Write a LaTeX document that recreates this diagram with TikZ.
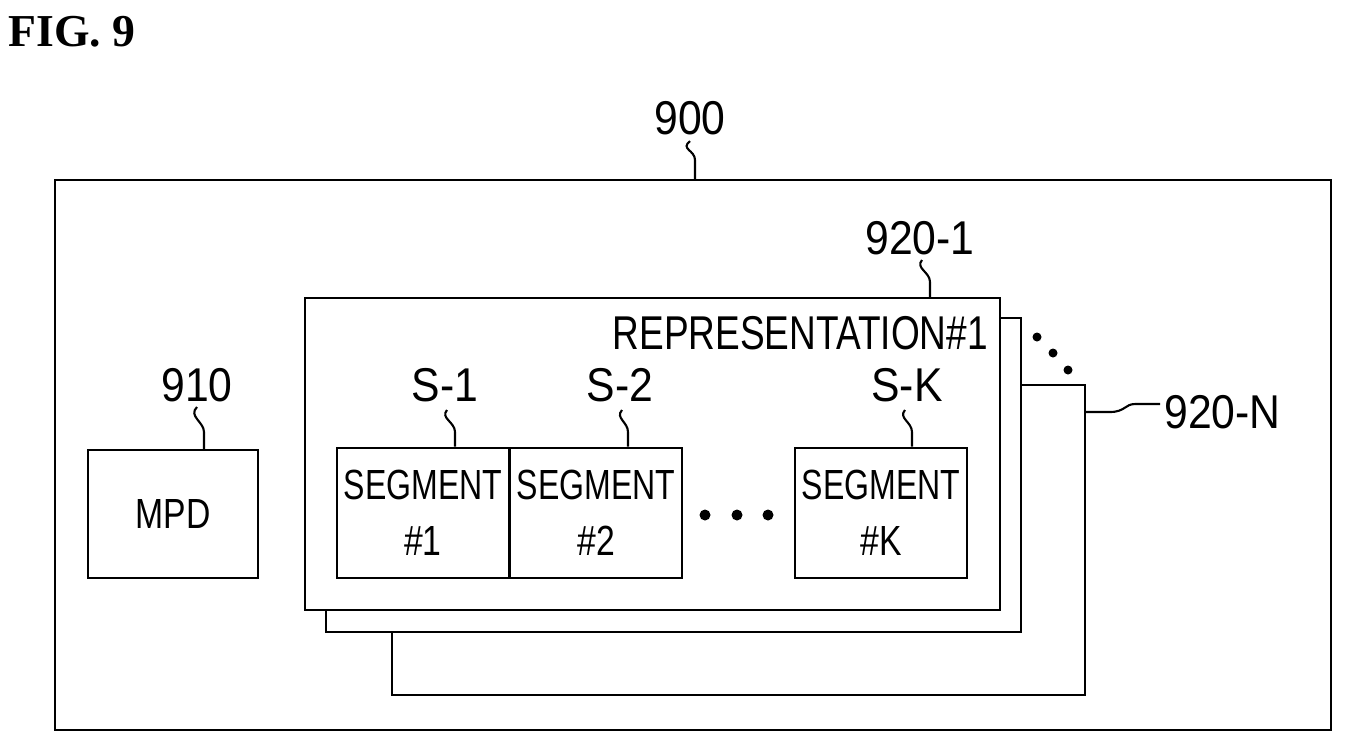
\documentclass[tikz,border=0pt]{standalone}
\usepackage{fontspec}
\setmainfont{Liberation Serif}
\newfontfamily\lbl{Liberation Sans}
\begin{document}
\begin{tikzpicture}[x=0.02cm,y=-0.02cm,
  box/.style={draw,line width=1.5pt,fill=white},
  lab/.style={font=\lbl\fontsize{27}{28}\selectfont,inner sep=0pt},
  seg/.style={draw,line width=1.5pt,minimum width=3.44cm,minimum height=2.6cm,inner sep=0pt,align=center,font=\lbl\fontsize{24}{32}\selectfont},
  sq/.style={line width=1.2pt},
  dot/.style={circle,fill=black,inner sep=0pt,minimum size=0.22cm}]
\useasboundingbox (0,0) rectangle (1352,752);
\node[anchor=north west,font=\bfseries\fontsize{26}{28}\selectfont,inner sep=0pt] (fig) at (8,16) {FIG. 9};
\draw[box] (55,180) rectangle (1331,730);
\node[lab] (l900) at (690,118) {\scalebox{0.9}[1]{900}};
\coordinate (c900) at (695,180);
\draw[sq] (l900.south) ++(0,6) .. controls +(-10,8) and +(0,-10) .. (695,160) -- (c900);
% stacked representations
\draw[box] (392,385) rectangle (1085,695);
\draw[box] (326,318) rectangle (1021,632);
\draw[box] (305,298) rectangle (1000,610);
\node[lab,anchor=east] (rep) at (988,333) {\scalebox{0.78}[1]{REPRESENTATION\#1}};
\node[lab] (l9201) at (920,238) {\scalebox{0.9}[1]{920-1}};
\coordinate (c9201) at (930,298);
\draw[sq] (922,260) .. controls (915,268) and (930,272) .. (930,282) -- (c9201);
\node[dot,minimum size=0.18cm] (d1) at (1037,337) {};
\node[dot,minimum size=0.18cm] (d2) at (1053,353) {};
\node[dot,minimum size=0.18cm] (d3) at (1068,370) {};
\node[lab,anchor=west] (l920N) at (1164,412) {\scalebox{0.9}[1]{920-N}};
\coordinate (c920N) at (1085,412);
\draw[sq] (c920N) -- (1110,412) .. controls (1125,412) and (1125,404) .. (1135,404) -- (1160,404);
% MPD
\node[draw,line width=1.5pt,minimum width=3.4cm,minimum height=2.56cm,font=\lbl\fontsize{24}{26}\selectfont] (mpd) at (173,514) {\scalebox{0.8}[1]{MPD}};
\node[lab] (l910) at (197,385) {\scalebox{0.9}[1]{910}};
\draw[sq] (197,407) .. controls (188,416) and (204,422) .. (204,432) -- (204,450);
% segments
\node[seg] (s1) at (423,513) {\scalebox{0.76}[1]{SEGMENT}\\\scalebox{0.8}[1]{\#1}};
\node[seg] (s2) at (596,513) {\scalebox{0.76}[1]{SEGMENT}\\\scalebox{0.8}[1]{\#2}};
\node[seg] (sk) at (881,513) {\scalebox{0.76}[1]{SEGMENT}\\\scalebox{0.8}[1]{\#K}};
\node[lab] (ls1) at (445,385) {\scalebox{0.9}[1]{S-1}};
\node[lab] (ls2) at (620,385) {\scalebox{0.9}[1]{S-2}};
\node[lab] (lsk) at (907,385) {\scalebox{0.9}[1]{S-K}};
\draw[sq] (447,410) .. controls (440,418) and (455,422) .. (455,432) -- (s1.north -| 455,0);
\draw[sq] (622,410) .. controls (615,418) and (628,422) .. (628,432) -- (s2.north -| 628,0);
\draw[sq] (905,410) .. controls (898,418) and (912,422) .. (912,432) -- (sk.north -| 912,0);
\node[dot] (e1) at (705,515) {};
\node[dot] (e2) at (737,515) {};
\node[dot] (e3) at (768,515) {};
\end{tikzpicture}
\end{document}
